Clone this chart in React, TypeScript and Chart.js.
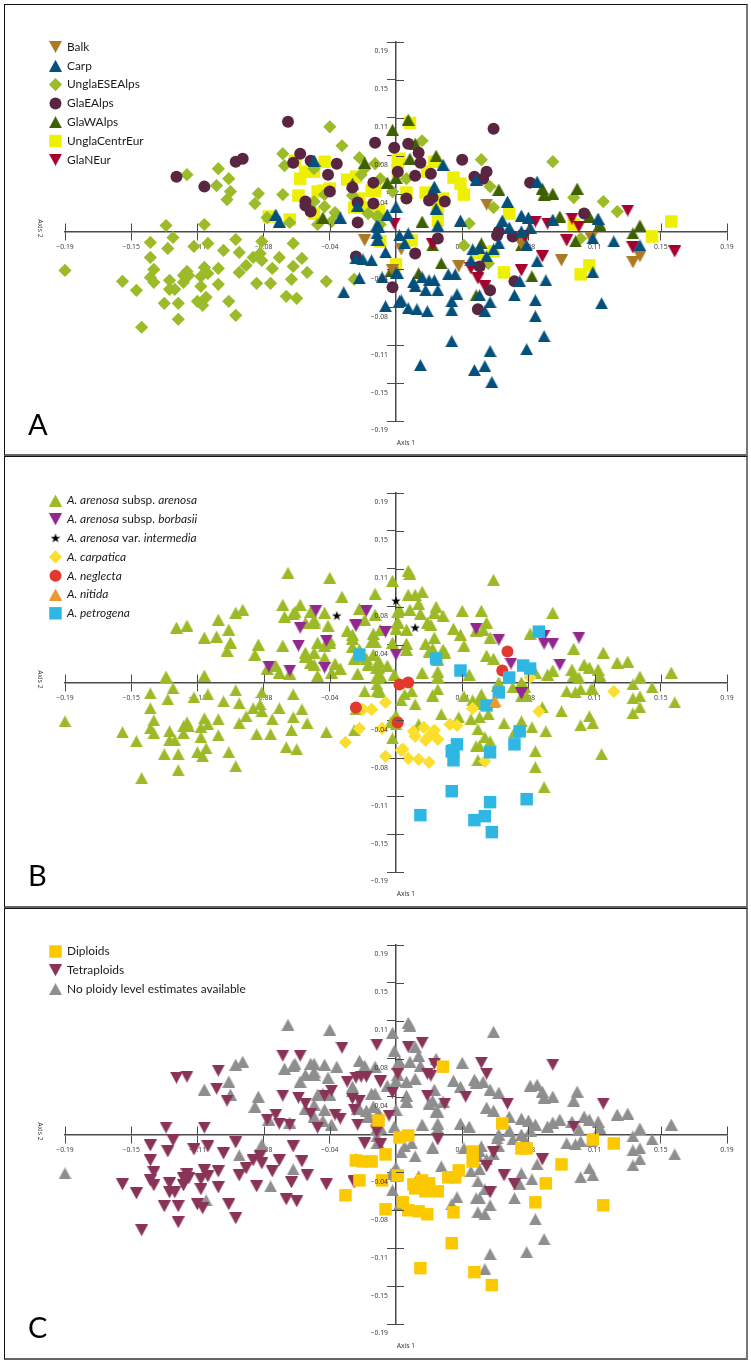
import React, { useEffect, useRef } from "react";
import { Chart, registerables } from "chart.js";
import { drawPoint } from "chart.js/helpers";

Chart.register(...registerables);

type P = number[];

// All coordinates are in thousandths of an axis unit: [axis 2 (horizontal), axis 1 (vertical)].
const balk: P[] = [[52,27],[3,-18],[36,-35],[72,-13],[95,-29],[112,-7],[136,-31],[140,-25],[-18,-9],[-2,-39]];
const carp: P[] = [[-47,71],[-69,17],[-67,10],[-32,14],[-22,26],[0,25],[-5,17],[-11,6],[-11,-2],[-11,-9],[-6,-21],[-23,-27],[-19,-28],[-14,-29],[-21,-47],[-8,-46],[-30,-61],[-6,-75],[0,-42],[2,-70],
  [27,67],[22,45],[46,52],[81,50],[64,30],[23,23],[24,6],[37,11],[72,16],[76,14],[61,11],[65,4],[90,12],[116,13],[77,4],[72,0],[-10,5],[-10,-9],[2,-4],[7,-2],[5,-12],[75,-14],[125,-10],[113,-7],[140,-14],[44,-18],[48,-17],[52,-25],[59,-12],[56,-18],[43,-29],[1,-42],[10,-51],[11,-55],[15,-46],[19,-49],[22,-49],[17,-59],[24,-59],[30,-43],[34,-43],[71,-50],[81,-30],[86,-49],[113,-41],[35,-63],[32,-70],[32,-79],[48,-64],[54,-71],[68,-64],[80,-69],[80,-85],[118,-72],[51,-80],[3,-69],[7,-77],[12,-78],[18,-80],
  [45,-139],[55,-151],[14,-134],[32,-110],[54,-120],[51,-135],[75,-118],[85,-105]];
const unglaLow: P[] = [[-190,-39],[-157,-50],[-149,-59],[-146,-96],[-141,-11],[-141,-26],[-139,-38],[-141,-46],[-139,-51],[-128,-6],[-131,-17],[-130,-49],[-130,-58],[-127,-58],[-133,-72],[-125,-72],[-125,-88],[-122,-51],[-122,-44],[-120,-40],[-119,-44],[-116,-15],[-112,-45],[-112,-55],[-114,-70],[-110,-36],[-108,-42],[-108,-12],[-111,-74],[-109,-66],[-102,-37],[-102,-53],[-99,-19],[-96,-70],[-92,-8],[-90,-21],[-90,-41],[-92,-84],[-86,-34],[-82,-26],[-80,-52],[-78,-22],[-77,-10],[-77,-29],[-72,-52],[-71,-37],[-67,-26],[-63,-65],[-59,-12],[-59,-35],[-60,-48],[-57,-67],[-54,-27],[-51,-41],[-40,-50],[-24,-48]];
const unglaHigh: P[] = [[-132,6],[-110,7],[-120,57],[-102,63],[-103,46],[-96,53],[-95,40],[-97,32],[-79,38],[-81,28],[-65,78],[-64,66],[-65,37],[-38,105],[-31,86],[-47,63],[-47,30],[-41,25],[-41,37],[-35,19],[-37,10],[-45,7],[-61,9],[-74,14],[-21,74],[-12,68],[-18,63],[-20,57],[-9,53],[-2,40],[-25,36],[-16,18],[-11,15],[15,91],[49,72],[90,70],[6,53],[54,45],[56,24],[42,8],[102,34],[119,30],[127,20],[106,-7],[39,-14],[53,-32],[-10,15],[-9,7]];
const glaEAlps: P[] = [[-62,110],[-126,55],[-110,45],[-92,70],[-88,73],[-55,78],[-59,69],[-49,71],[-34,68],[-39,57],[-38,40],[-52,30],[-52,26],[-49,20],[-25,44],[-13,49],[-22,29],[-13,28],[-22,9],[-12,89],[-1,84],[1,60],[-23,-25],[-2,-56],[56,103],[7,88],[13,79],[14,69],[38,72],[11,56],[20,58],[45,55],[52,60],[50,53],[77,49],[6,33],[21,34],[19,31],[28,30],[108,18],[59,0],[58,-4],[67,-5],[24,-7],[11,-22],[48,-35],[68,-50],[54,-59],[47,-78]];
const glaWAlps: P[] = [[-2,102],[-18,69],[0,54],[-5,49],[-42,14],[-25,48],[7,112],[11,88],[23,76],[8,73],[59,42],[84,43],[85,37],[90,38],[104,43],[94,15],[111,15],[117,7],[140,6],[136,-2],[103,-10],[15,10],[21,-14],[49,-12],[26,-32],[46,-64],[13,-42],[-3,-40],[78,-45],[72,-14]];
const unglaCentrEur: P[] = [[-73,15],[-61,12],[-58,71],[-55,53],[-52,60],[-47,60],[-41,70],[-56,36],[-45,40],[-42,41],[-38,43],[-47,18],[-28,52],[-23,55],[-21,33],[-24,24],[-14,41],[-10,21],[-17,24],[1,71],[8,109],[2,73],[1,61],[22,70],[18,60],[33,54],[37,48],[39,37],[6,39],[17,39],[27,33],[24,23],[24,11],[65,18],[102,7],[158,10],[147,-5],[-10,21],[-12,41],[9,-9],[-9,-10],[0,-33],[56,-20],[62,-41],[111,-34],[106,-43],[47,-22]];
const glaNEur: P[] = [[-1,8],[80,10],[87,8],[101,13],[133,21],[105,5],[98,-9],[74,-5],[136,-16],[160,-20],[84,-25],[72,-39],[47,-47],[51,-55],[43,-37],[21,-13]];

const borbasii: P[] = [[-23,58],[-6,51],[0,28],[46,54],[59,43],[85,39],[90,39],[85,47],[105,45],[66,19],[94,18],[72,-11],[-73,16],[-61,12],[-46,72],[-55,55],[-56,37],[-40,42],[-41,15],[-17,72],[-23,57]];
const intermedia: P[] = [[-34,67],[0,82],[11,55]];
const carpatica: P[] = [[77,5],[125,-9],[44,-26],[82,-29],[-6,-20],[-14,-27],[-19,-27],[-21,-46],[-8,-46],[-29,-60],[31,-42],[35,-43],[16,-45],[10,-49],[22,-48],[11,-54],[19,-54],[17,-58],[24,-57],[4,-67],[3,-68],[-6,-74],[7,-76],[13,-77],[19,-80],[51,-79]];
const neglecta: P[] = [[64,31],[61,12],[7,0],[2,-2],[-23,-25],[1,-40]];
const nitida: P[] = [[57,-19]];
const petrogena: P[] = [[82,51],[-21,28],[23,24],[37,12],[73,17],[77,14],[65,5],[59,-10],[52,-23],[71,-49],[68,-62],[35,-62],[32,-69],[33,-68],[33,-78],[54,-70],[32,-109],[54,-120],[75,-117],[14,-133],[51,-134],[45,-138],[55,-150]];

const diploids: P[] = [[-10,14],[2,-3],[7,-1],[61,11],[44,-17],[44,-27],[72,-14],[75,-14],[113,-5],[125,-9],[95,-30],[86,-49],[80,-68],[119,-71],[-6,-20],[-23,-26],[-19,-27],[-14,-27],[-21,-46],[-8,-46],[-29,-61],[1,-41],[30,-43],[34,-43],[36,-36],[10,-50],[11,-54],[15,-46],[19,-49],[24,-57],[17,-57],[19,-55],[4,-68],[-6,-75],[7,-76],[13,-77],[18,-80],[33,-78],[32,-109],[14,-134],[45,-138],[55,-151],[27,68]];
const tetraUpperLeft: P[] = [[-132,7],[-110,7],[-126,57],[-120,58],[-102,64],[-103,46],[-97,34],[-65,79],[-55,79],[-65,39],[-56,37],[-52,31],[-49,21],[-45,7],[-31,87],[-11,90],[-69,20],[-74,15],[-67,11],[-61,10],[-35,20],[-32,16],[-41,39],[-37,44],[-28,53],[-23,57],[-17,58],[-20,58],[-9,53],[-25,36],[-21,34],[-24,25],[-22,10],[-4,19],[-2,42],[1,61],[-11,3]];
const tetraCentre: P[] = [[7,88],[15,92],[22,71],[-9,54],[18,61],[20,59],[18,39],[28,31],[40,38],[49,72],[52,61],[90,70],[64,31],[119,31],[102,8],[24,-5],[-18,-9],[-9,-10],[56,-18],[52,-32],[62,-41],[68,-50],[84,-25],[54,-58],[-24,-47]];
const ungraded: P[] = [[-190,-39],[-90,-22],[-59,-36],[-72,-52],[-108,-66],[-77,-10]];

const tickValues = { min: -0.19, max: 0.19, step: 0.038 };

const regionLabels = ["Balk", "Carp", "UnglaESEAlps", "GlaEAlps", "GlaWAlps", "UnglaCentrEur", "GlaNEur"];
const taxonLabels = ["*A. arenosa* subsp. *arenosa*", "*A. arenosa* subsp. *borbasii*", "*A. arenosa* var. *intermedia*", "*A. carpatica*", "*A. neglecta*", "*A. nitida*", "*A. petrogena*"];
const ploidyLabels = ["Diploids", "Tetraploids", "No ploidy level estimates available"];

const everyPoint: P[] = [...balk, ...carp, ...unglaLow, ...unglaHigh, ...glaEAlps, ...glaWAlps, ...unglaCentrEur, ...glaNEur];

// Removes from the pool the nearest point to each classified point.
function without(pool: P[], taken: P[]): P[] {
  const left = pool.slice();
  for (const t of taken) {
    let best = -1, bestD = 100;
    left.forEach((p, i) => {
      const d = (p[0] - t[0]) ** 2 + (p[1] - t[1]) ** 2;
      if (d < bestD) { bestD = d; best = i; }
    });
    if (best >= 0) left.splice(best, 1);
  }
  return left;
}

const tetraLower = without(unglaLow, ungraded);
const tetraploids = [...tetraLower, ...tetraUpperLeft, ...tetraCentre];
const noEstimate = without(everyPoint, [...diploids, ...tetraploids]);
const arenosa = without(everyPoint, [...borbasii, ...intermedia, ...carpatica, ...neglecta, ...nitida, ...petrogena]);

function starImage() {
  const c = document.createElement("canvas");
  c.width = 10; c.height = 10;
  const g = c.getContext("2d")!;
  g.fillStyle = "#000";
  g.beginPath();
  for (let i = 0; i < 10; i++) {
    const r = i % 2 ? 2 : 5;
    const a = -Math.PI / 2 + (i * Math.PI) / 5;
    g.lineTo(5 + r * Math.cos(a), 5.3 + r * Math.sin(a));
  }
  g.closePath();
  g.fill();
  return c;
}

// Triangle glyphs centred on their bounding box, as in the source figure.
function triangleImage(color: string, down: boolean) {
  const w = 13, h = 12;
  const c = document.createElement("canvas");
  c.width = w; c.height = h;
  const g = c.getContext("2d")!;
  g.fillStyle = color;
  g.beginPath();
  if (down) { g.moveTo(0, 0); g.lineTo(w, 0); g.lineTo(w / 2, h); }
  else { g.moveTo(0, h); g.lineTo(w, h); g.lineTo(w / 2, 0); }
  g.closePath();
  g.fill();
  return c;
}

const MARK = {
  up: (color: string) => ({ pointStyle: triangleImage(color, false), pointRadius: 6.5, pointRotation: 0 }),
  down: (color: string) => ({ pointStyle: triangleImage(color, true), pointRadius: 6.5, pointRotation: 0 }),
  diamond: () => ({ pointStyle: "rectRot", pointRadius: 6.6, pointRotation: 0 }),
  circle: () => ({ pointStyle: "circle", pointRadius: 6, pointRotation: 0 }),
  square: () => ({ pointStyle: "rect", pointRadius: 8.8, pointRotation: 0 }),
};

function series(label: string, pts: P[], color: string, mark: any, order: number) {
  return {
    label: label.replace(/\*/g, ""),
    legendText: label,
    data: pts.map((p) => ({ x: p[0] / 1000, y: p[1] / 1000 })),
    backgroundColor: color,
    borderColor: color,
    borderWidth: 0,
    hoverRadius: mark.pointRadius,
    clip: false,
    order,
    ...mark,
  };
}

const FONT_TICK = "'Open Sans', 'DejaVu Sans', sans-serif";
const FONT_TEXT = "Lato, 'Open Sans', sans-serif";
const AXIS = "#4a4a4a";

const panelPlugin = {
  id: "panelDecor",
  afterDatasetsDraw(chart: any, _a: any, opts: any) {
    const { ctx, scales } = chart;
    const x0 = scales.x.getPixelForValue(0);
    const y0 = scales.y.getPixelForValue(0);
    ctx.save();
    // inner half of the cross-shaped tick marks
    ctx.strokeStyle = AXIS;
    ctx.lineWidth = 1;
    ctx.beginPath();
    for (const t of scales.x.ticks) {
      const p = Math.round(scales.x.getPixelForValue(t.value)) + 0.5;
      ctx.moveTo(p, y0);
      ctx.lineTo(p, y0 - 8);
    }
    for (const t of scales.y.ticks) {
      const p = Math.round(scales.y.getPixelForValue(t.value)) + 0.5;
      ctx.moveTo(x0, p);
      ctx.lineTo(x0 + 8, p);
    }
    ctx.stroke();

    ctx.fillStyle = "#333";
    ctx.font = `6.8px ${FONT_TICK}`;
    ctx.textBaseline = "middle";

    // vertical axis labels sit below and left of their tick
    ctx.textAlign = "right";
    for (const t of scales.y.ticks) {
      const text = Number(t.value).toFixed(2).replace("-", "\u2212");
      ctx.fillText(text, x0 - 8, scales.y.getPixelForValue(t.value) + 9.5);
    }

    ctx.textAlign = "center";
    ctx.fillText("Axis 1", x0 + 10, scales.y.bottom + 22);
    ctx.save();
    ctx.translate(40, y0 - 3);
    ctx.rotate(Math.PI / 2);
    ctx.fillText("Axis 2", 0, 0);
    ctx.restore();

    // panel letter
    ctx.fillStyle = "#000";
    ctx.font = `29px ${FONT_TEXT}`;
    ctx.textAlign = "left";
    ctx.fillText(opts.letter, 28, 426);

    // legend, top to bottom in data order
    chart.data.datasets.forEach((d: any, i: number) => {
      const y = opts.legendY + i * 18.8;
      const mark = { pointStyle: d.pointStyle, rotation: d.pointRotation, radius: d.pointRadius, borderWidth: 0 };
      ctx.fillStyle = d.backgroundColor;
      ctx.strokeStyle = d.backgroundColor;
      ctx.lineWidth = 0;
      drawPoint(ctx, mark, 55.5, y);
      ctx.fillStyle = "#1a1a1a";
      ctx.textBaseline = "middle";
      let tx = 67;
      d.legendText.split("*").forEach((part: string, k: number) => {
        ctx.font = `${k % 2 ? "italic " : ""}11.9px ${FONT_TEXT}`;
        ctx.fillText(part, tx, y);
        tx += ctx.measureText(part).width;
      });
    });
    ctx.restore();
  },
};

function axisOptions(other: "x" | "y") {
  const horizontal = other === "y";
  return {
    type: "linear",
    position: { [other]: 0 },
    min: tickValues.min,
    max: tickValues.max,
    afterBuildTicks(scale: any) {
      const out = [];
      for (let k = -5; k <= 5; k++) if (k !== 0) out.push({ value: k * tickValues.step });
      scale.ticks = out;
    },
    grid: { drawOnChartArea: false, drawTicks: true, tickLength: 8, color: AXIS, lineWidth: 1 },
    border: { display: true, color: AXIS, width: 1.5 },
    ticks: {
      display: horizontal,
      autoSkip: false,
      maxRotation: 0,
      minRotation: 0,
      padding: 3,
      color: "#333",
      font: { size: 6.8, family: FONT_TICK },
      callback: (v: number) => Number(v).toFixed(2).replace("-", "\u2212"),
    },
  };
}

function Panel({ top, letter, legendY, build }: { top: number; letter: string; legendY: number; build: () => any[] }) {
  const ref = useRef<HTMLCanvasElement>(null);
  useEffect(() => {
    const chart = new Chart(ref.current!, {
      type: "scatter",
      data: { datasets: build() },
      plugins: [panelPlugin],
      options: {
        animation: false,
        responsive: false,
        layout: { padding: { left: 65, right: 24, top: 42, bottom: 35 } },
        scales: { x: axisOptions("y"), y: axisOptions("x") },
        plugins: { legend: { display: false }, tooltip: { enabled: false }, panelDecor: { letter, legendY } },
      },
    } as any);
    return () => chart.destroy();
  }, []);
  return <canvas ref={ref} width={751} height={456} style={{ position: "absolute", left: 0, top, width: 751, height: 456 }} />;
}

const regionSeries = () => [
  series(regionLabels[0], balk, "#ab7a25", MARK.down("#ab7a25"), 4),
  series(regionLabels[1], carp, "#03507c", MARK.up("#03507c"), 1),
  series(regionLabels[2], [...unglaLow, ...unglaHigh], "#9cbb28", MARK.diamond(), 6),
  series(regionLabels[3], glaEAlps, "#5a2540", MARK.circle(), 2),
  series(regionLabels[4], glaWAlps, "#3f6000", MARK.up("#3f6000"), 5),
  series(regionLabels[5], unglaCentrEur, "#edf000", MARK.square(), 7),
  series(regionLabels[6], glaNEur, "#a5002e", MARK.down("#a5002e"), 3),
];
const taxonSeries = () => [
  series(taxonLabels[0], arenosa, "#9bba26", MARK.up("#9bba26"), 7),
  series(taxonLabels[1], borbasii, "#93278f", MARK.down("#93278f"), 5),
  series(taxonLabels[2], intermedia, "#000", { pointStyle: starImage(), pointRadius: 5, pointRotation: 0 }, 1),
  series(taxonLabels[3], carpatica, "#fcde2c", MARK.diamond(), 6),
  series(taxonLabels[4], neglecta, "#e2382e", MARK.circle(), 4),
  series(taxonLabels[5], nitida, "#ea9a2f", MARK.up("#ea9a2f"), 2),
  series(taxonLabels[6], petrogena, "#2fb7e4", MARK.square(), 3),
];
const ploidySeries = () => [
  series(ploidyLabels[0], diploids, "#fcc800", MARK.square(), 1),
  series(ploidyLabels[1], tetraploids, "#8a3358", MARK.down("#8a3358"), 2),
  series(ploidyLabels[2], noEstimate, "#8e8e8e", MARK.up("#8e8e8e"), 3),
];

const frame = (top: number, height: number): React.CSSProperties => ({
  position: "absolute",
  left: 4,
  top,
  width: 741,
  height,
  borderLeft: "1px solid #111",
  borderTop: "1px solid #111",
  borderRight: "2px solid #777",
  borderBottom: "2px solid #666",
  zIndex: 2,
  pointerEvents: "none",
});

export default function App() {
  return (
    <div style={{ position: "absolute", left: 0, top: 0, width: 751, height: 1365, background: "#fff" }}>
      <style>{"body{margin:0;background:#fff}"}</style>
      <Panel top={0} letter="A" legendY={47} build={regionSeries} />
      <Panel top={451} letter="B" legendY={49.5} build={taxonSeries} />
      <Panel top={903} letter="C" legendY={48.5} build={ploidySeries} />
      <div style={frame(4, 449)} />
      <div style={frame(456, 449)} />
      <div style={frame(908, 449)} />
    </div>
  );
}
